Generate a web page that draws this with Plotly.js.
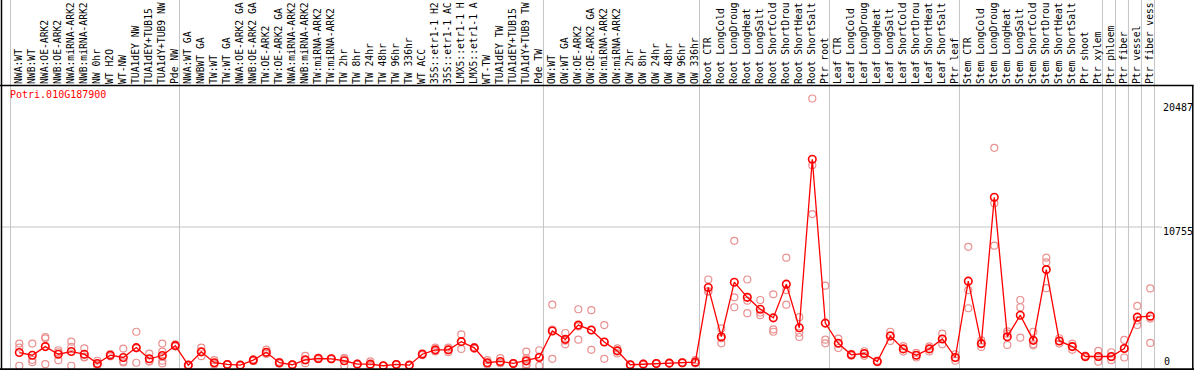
<!DOCTYPE html>
<html>
<head>
<meta charset="utf-8">
<script src="https://cdn.plot.ly/plotly-3.0.1.min.js"></script>
<style>
html,body{margin:0;padding:0;background:#fff;}
#chart{width:1194px;height:370px;}
</style>
</head>
<body>
<div id="chart"></div>
<script>
const geneId = "Potri.010G187900";

// labels as they are shown in the reference (long ones are cut at the top edge there)
const categories = [
  "NWA:WT","NWB:WT","NWA:OE-ARK2","NWB:OE-ARK2","NWA:miRNA-ARK2","NWB:miRNA-ARK2","NW 0hr","WT H2O","WT-NW","TUA1dEY NW","TUA1dEY+TUB15","TUA1dY+TUB9 NW","Pde NW",
  "NWA:WT GA","NWBWT GA","TW:WT","TW:WT GA","NWA:OE-ARK2 GA","NWB:OE-ARK2 GA","TW:OE-ARK2","TW:OE-ARK2 GA","NWA:miRNA-ARK2","NWB:miRNA-ARK2","TW:miRNA-ARK2","TW:miRNA-ARK2",
  "TW 2hr","TW 8hr","TW 24hr","TW 48hr","TW 96hr","TW 336hr","WT ACC","35S::etr1-1 H2","35S::etr1-1 AC","LMX5::etr1-1 H","LMX5::etr1-1 A","WT-TW","TUA1dEY TW","TUA1dEY+TUB15","TUA1dY+TUB9 TW","Pde TW",
  "OW:WT","OW:WT GA","OW:OE-ARK2","OW:OE-ARK2 GA","OW:miRNA-ARK2","OW:miRNA-ARK2","OW 2hr","OW 8hr","OW 24hr","OW 48hr","OW 96hr","OW 336hr",
  "Root CTR","Root LongCold","Root LongDroug","Root LongHeat","Root LongSalt","Root ShortCold","Root ShortDrou","Root ShortHeat","Root ShortSalt","Ptr root",
  "Leaf CTR","Leaf LongCold","Leaf LongDroug","Leaf LongHeat","Leaf LongSalt","Leaf ShortCold","Leaf ShortDrou","Leaf ShortHeat","Leaf ShortSalt","Ptr leaf",
  "Stem CTR","Stem LongCold","Stem LongDroug","Stem LongHeat","Stem LongSalt","Stem ShortCold","Stem ShortDrou","Stem ShortHeat","Stem ShortSalt","Ptr shoot","Ptr xylem",
  "Ptr phloem","Ptr fiber","Ptr vessel","Ptr fiber vess"
];

// index of the first category of each group (last entry = end)
const groupStarts = [0, 13, 41, 53, 63, 73, 84, 85, 86, 87, 88];

const meanValues = [
  1246,1044,1697,1119,1321,1119,421,1044,871,1621,774,1022,1772,
  293,1299,473,345,293,669,1269,473,323,698,796,774,624,368,368,248,345,293,1119,1449,1449,2072,1599,473,571,421,624,871,
  2876,2245,3326,2950,2050,1374,323,368,421,443,473,518,
  6178,2448,6576,5428,4527,3873,6426,3123,15884,3476,
  1945,1074,1172,571,2500,1524,1044,1524,2275,871,
  6652,1922,13010,2448,4076,2170,7530,2125,1697,946,946,
  946,1547,3926,4002
];

const replicates = [
  [1922,1621,248],[1922,518,692],[2425,2320,368],[1419,669,1268],[2072,1674,248],[1569,871,916],[624,293,345],[963,1044,1125],[1547,571,494],[2823,473,1568],[1172,571,579],[1922,1321,924,624,421],[1869,1719,1728],
  [267,293,316],[1621,969,1307],[669,414,336],[345,316,375],[293,277,311],[669,610,728],[1471,1198,1136],[473,541,404],[323,296,349],[999,443,652],[796,855,737],[774,806,741],[819,248,804],[368,336,400],[571,267,267],[248,238,259],[345,316,375],[293,277,311],[1119,1051,1186],[1621,1394,1331],[1621,1269,1457],[2620,1524,2072],[1599,1541,1657],[669,414,336],[819,443,450],[421,394,447],[1321,819,571,316,248,365],[1419,248,944],
  [4872,774,2982],[2725,1869,2140],[4527,2222,3228],[4452,1449,2950],[3326,774,2050],[1569,1374,1179],[323,296,349],[368,336,400],[421,394,447],[443,414,473],[473,443,502],[669,443,441],
  [6779,5878,5877],[3071,1945,2327],[9706,5428,4677],[6779,5173,4226],[5225,4076,4280],[5653,2995,2823],[8430,4872,5976],[3926,2747,2425],[20487,15434,11733],[6308,2222,1945],
  [2298,1945,1590],[1074,1002,1145],[1344,1172,999],[571,512,630],[2823,2125,2553],[1321,1524,1727],[871,1044,1218],[1719,1524,1329],[2673,1869,2283],[624,871,1118],
  [9256,5976,4602],[1674,1922,2170],[16752,12547,9342],[2673,1824,2845],[5225,4677,2372],[2823,1795,1893],[8430,8078,6125],[1922,2125,2328],[1922,1449,1719],[946,884,1008],[1374,548,916],
  [1269,669,901],[2200,871,1570],[4775,3672,3332],[6103,3821,1974]
];

const yTickValues = [0, 10755, 20487];
const yMax = 21510;

// ---- build traces ----
const idx = categories.map((_, i) => i);
const repX = [], repY = [];
replicates.forEach((arr, i) => arr.forEach(v => { repX.push(i); repY.push(v); }));

const W = 1194, H = 370, TOP = 85;
const pxPerCat = 13;
const firstCenterPx = 19.3;
const xr0 = -firstCenterPx / pxPerCat;
const xr1 = xr0 + W / pxPerCat;
const plotH = H - TOP;
const yr0 = yMax - (yMax / 284) * plotH;

function paperY(px) { return (H - px) / plotH; }

const traces = [
  {
    type: 'scatter', mode: 'markers', x: repX, y: repY, cliponaxis: false,
    marker: { symbol: 'circle-open', size: 7, color: '#ea9090', line: { width: 1.2, color: '#ea9090' } },
    hoverinfo: 'skip'
  },
  {
    type: 'scatter', mode: 'lines+markers', x: idx, y: meanValues, cliponaxis: false,
    line: { color: '#ff0000', width: 1.3 },
    marker: { symbol: 'circle-open', size: 7.5, color: '#ff0000', line: { width: 1.6, color: '#ff0000' } }
  }
];

const shapes = [];
groupStarts.forEach(k => {
  shapes.push({ type: 'line', layer: 'below', xref: 'x', yref: 'paper', x0: k - 0.68, x1: k - 0.68, y0: 0, y1: paperY(0),
    line: { color: '#c4c4c4', width: 1 } });
});
shapes.push({ type: 'line', layer: 'below', xref: 'paper', yref: 'y', x0: 0, x1: 1162 / W, y0: yTickValues[1], y1: yTickValues[1],
  line: { color: '#c4c4c4', width: 1 } });
shapes.push({ type: 'line', xref: 'paper', yref: 'paper', x0: 1.5 / W, x1: 1.5 / W, y0: 0, y1: paperY(0), line: { color: '#000', width: 1.5 } });
shapes.push({ type: 'line', xref: 'paper', yref: 'paper', x0: 0, x1: 1193.5 / W, y0: paperY(85.5), y1: paperY(85.5), line: { color: '#000', width: 1.5 } });
shapes.push({ type: 'line', xref: 'paper', yref: 'paper', x0: 0, x1: 1, y0: paperY(369.3), y1: paperY(369.3), line: { color: '#000', width: 2 } });
shapes.push({ type: 'line', xref: 'paper', yref: 'paper', x0: 1192.8 / W, x1: 1192.8 / W, y0: 0, y1: paperY(85), line: { color: '#000', width: 1.5 } });

const monoFont = 'DejaVu Sans Mono, monospace';
const annotations = [
  { xref: 'paper', yref: 'paper', x: 8 / W, y: paperY(94.5), xanchor: 'left', yanchor: 'middle', showarrow: false,
    text: geneId, font: { family: monoFont, size: 10, color: '#ff0000' } },
  { xref: 'paper', yref: 'paper', x: 1161 / W, y: paperY(107.7), xanchor: 'left', yanchor: 'middle', showarrow: false,
    text: String(yTickValues[2]), font: { family: monoFont, size: 10, color: '#000' } },
  { xref: 'paper', yref: 'paper', x: 1161 / W, y: paperY(231.7), xanchor: 'left', yanchor: 'middle', showarrow: false,
    text: String(yTickValues[1]), font: { family: monoFont, size: 10, color: '#000' } },
  { xref: 'paper', yref: 'paper', x: 1162 / W, y: paperY(361.7), xanchor: 'left', yanchor: 'middle', showarrow: false,
    text: String(yTickValues[0]), font: { family: monoFont, size: 10, color: '#000' } }
];

const layout = {
  width: W, height: H,
  margin: { l: 0, r: 0, t: TOP, b: 0, pad: 0 },
  paper_bgcolor: '#ffffff', plot_bgcolor: '#ffffff',
  showlegend: false,
  xaxis: {
    range: [xr0, xr1], side: 'top', tickmode: 'array', tickvals: idx, ticktext: categories,
    tickangle: -90, ticks: '', showgrid: false, zeroline: false, showline: false, automargin: false,
    ticklabelstandoff: 0,
    tickfont: { family: monoFont, size: 9.7, color: '#000' }, fixedrange: true
  },
  yaxis: {
    range: [yr0, yMax], showgrid: false, zeroline: false, showline: false, showticklabels: false, ticks: '', fixedrange: true
  },
  shapes: shapes,
  annotations: annotations
};

Plotly.newPlot('chart', traces, layout, { displayModeBar: false, staticPlot: true });
</script>
</body>
</html>
